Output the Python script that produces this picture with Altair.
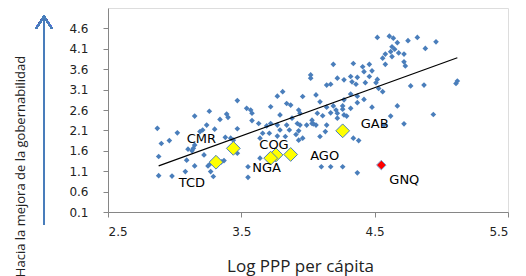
import altair as alt
import pandas as pd

# ---- data ----
pts_x = [2.87, 2.90, 2.96, 3.02, 2.88, 2.88, 2.98, 3.08, 3.09, 3.10, 3.13, 3.15, 3.15, 3.15,
         3.47, 3.26, 3.39, 3.34, 3.24, 3.21, 3.47, 3.38, 3.14, 3.22, 3.37, 3.35, 3.27, 3.29,
         3.44, 3.42, 3.25, 3.47, 3.55, 3.40, 3.30, 3.19, 3.27,
         3.64, 3.71, 3.72, 3.83, 3.84, 3.92, 3.94, 3.96, 4.03, 4.06, 4.14, 4.10, 4.17, 4.26,
         4.34, 4.38, 4.37, 4.72, 4.02, 4.02, 4.14, 3.81, 3.77, 3.72, 3.84, 3.87, 3.96, 4.06,
         3.54, 3.57, 3.58, 3.93, 3.94, 4.07, 3.79, 3.88, 3.58, 3.63, 4.03, 4.04, 3.99, 3.77,
         3.69, 3.79, 3.93, 3.86, 3.66, 3.77, 3.91, 4.09, 4.13, 3.93, 3.55, 3.64, 4.09,
         4.52, 4.61, 4.64, 4.67, 4.75, 4.82, 4.63, 4.65, 4.62, 4.58, 4.68, 4.63, 4.72, 4.56,
         4.72, 4.73, 4.58, 4.19, 4.34, 4.41, 4.46, 4.42, 4.48, 4.32, 4.37, 4.46, 4.33, 4.27,
         4.22, 4.43, 4.36, 4.52, 4.51, 4.17, 4.53, 4.56, 4.77, 4.32, 4.37, 4.42, 4.27, 4.48,
         4.67, 4.14, 4.19, 4.21, 4.26, 4.26, 4.11, 4.22, 4.27, 4.57, 4.96, 4.88, 4.87, 5.11,
         5.12, 4.94, 4.62, 4.22, 4.17, 4.29, 4.37, 4.32]
pts_y = [2.15, 1.78, 1.85, 2.04, 1.46, 0.99, 0.98, 1.09, 1.37, 1.64, 1.60, 1.74, 2.45, 1.23,
         2.83, 2.57, 2.50, 2.37, 2.23, 2.11, 2.14, 1.93, 1.66, 1.50, 1.36, 1.33, 1.09, 0.97,
         1.86, 1.91, 1.23, 1.54, 0.95, 2.42, 2.13, 2.07, 1.29,
         1.91, 2.03, 2.27, 1.95, 2.23, 2.27, 2.23, 1.91, 2.27, 2.23, 2.23, 1.21, 1.21, 1.21,
         1.91, 1.85, 1.06, 2.26, 3.46, 3.38, 3.21, 3.05, 2.94, 2.68, 2.76, 2.72, 2.93, 2.97,
         2.64, 2.60, 2.52, 2.60, 2.52, 2.52, 2.48, 2.40, 2.34, 2.27, 2.35, 2.26, 2.23, 2.23,
         2.21, 2.11, 2.09, 2.11, 2.03, 1.96, 2.00, 1.95, 2.07, 1.86, 1.21, 1.42, 2.80,
         4.38, 4.41, 4.36, 4.25, 4.30, 4.38, 4.15, 4.09, 4.03, 3.97, 4.00, 3.91, 3.97, 3.87,
         3.78, 3.68, 3.72, 3.72, 3.74, 3.66, 3.72, 3.54, 3.56, 3.42, 3.40, 3.42, 3.29, 3.34,
         3.38, 3.27, 3.23, 3.35, 3.27, 3.23, 3.13, 3.05, 3.19, 2.99, 2.94, 2.86, 2.85, 2.67,
         2.70, 2.67, 2.70, 2.60, 2.70, 2.62, 2.46, 2.40, 2.48, 2.23, 4.27, 4.11, 3.21, 3.25,
         3.31, 2.49, 2.45, 2.52, 2.53, 2.45, 2.78, 2.64]

hl_codes = ["CMR", "TCD", "COG", "NGA", "AGO", "GAB"]
hl_x = [3.44, 3.31, 3.76, 3.72, 3.87, 4.26]
hl_y = [1.66, 1.32, 1.50, 1.42, 1.51, 2.09]

gnq_code = ["GNQ"]
gnq_x = [4.55]
gnq_y = [1.25]

trend_x = [2.88, 5.12]
trend_y = [1.23, 3.88]

x_ticks = [2.5, 3.5, 4.5, 5.5]
y_ticks = [0.1, 0.6, 1.1, 1.6, 2.1, 2.6, 3.1, 3.6, 4.1, 4.6]

# ---- style ----
BLUE = "#4a7ebb"
label_offsets = {"CMR": (-32, -9), "TCD": (-24, 21), "COG": (-2, -10), "NGA": (-4, 10),
                 "AGO": (34, 2), "GAB": (32, -7), "GNQ": (23, 15)}

pts = pd.DataFrame({"x": pts_x, "y": pts_y})
hl = pd.DataFrame({"code": hl_codes, "x": hl_x, "y": hl_y})
gnq = pd.DataFrame({"code": gnq_code, "x": gnq_x, "y": gnq_y})
trend = pd.DataFrame({"x": trend_x, "y": trend_y})

xs = alt.Scale(domain=[2.5, 5.5], nice=False, zero=False)
ys = alt.Scale(domain=[0.1, 5.1], nice=False, zero=False)

x_axis = alt.Axis(values=x_ticks, format=".1f", title="Log PPP per cápita", grid=False,
                  domainColor="#868686", tickColor="#868686", tickSize=5,
                  labelPadding=9, labelFont="DejaVu Sans", labelFontSize=12,
                  labelOverlap=False,
                  labelColor="#222222", titleFont="Open Sans", titleFontSize=17,
                  titleFontWeight="normal", titleColor="#222222",
                  titleX=192, titleY=54, titleBaseline="middle", titleAlign="center")
y_axis = alt.Axis(values=y_ticks, format=".1f", title="Hacia la mejora de la gobernabilidad",
                  grid=False, domainColor="#868686", tickColor="#868686", tickSize=5,
                  labelPadding=15, labelFont="DejaVu Sans", labelFontSize=12,
                  labelOverlap=False,
                  labelColor="#222222", titleFont="Open Sans", titleFontSize=13,
                  titleFontWeight="normal", titleColor="#222222", titleAngle=270,
                  titleX=-88, titleY=158, titleBaseline="middle", titleAlign="center")

X = lambda: alt.X("x:Q", scale=xs, axis=x_axis)
Y = lambda: alt.Y("y:Q", scale=ys, axis=y_axis)

base_pts = alt.Chart(pts).mark_point(shape="diamond", filled=True, color=BLUE, size=32,
                                     opacity=1).encode(x=X(), y=Y())

line = alt.Chart(trend).mark_line(color="black", strokeWidth=1.2).encode(x=X(), y=Y())

hl_pts = alt.Chart(hl).mark_point(shape="diamond", filled=True, fill="#ffff00",
                                  stroke=BLUE, strokeWidth=1, size=190, opacity=1).encode(
    x=X(), y=Y())

gnq_pt = alt.Chart(gnq).mark_point(shape="diamond", filled=True, fill="#ff0000",
                                   stroke="#7aa0d0", strokeWidth=1, size=90, opacity=1).encode(
    x=X(), y=Y())

labels = []
all_lab = pd.concat([hl, gnq], ignore_index=True)
for code, (dx, dy) in label_offsets.items():
    labels.append(
        alt.Chart(all_lab).transform_filter(alt.datum.code == code).mark_text(
            font="DejaVu Sans", fontSize=13, color="black", dx=dx, dy=dy,
            align="center", baseline="middle").encode(x=X(), y=Y(), text="code:N")
    )

arrow_line = alt.Chart(pts).mark_rule(color=BLUE, strokeWidth=1.5).encode(
    x=alt.value(-64), y=alt.value(9), y2=alt.value(217))
arrow_head = alt.Chart(pts).mark_point(
    shape="M-1.33,1L0,-1L1.33,1", filled=False, stroke=BLUE, strokeWidth=1.5, size=144,
    opacity=1).encode(x=alt.value(-64), y=alt.value(14.7))

chart = alt.layer(base_pts, line, hl_pts, gnq_pt, *labels, arrow_line, arrow_head).properties(
    width=400, height=204,
    autosize=alt.AutoSizeParams(type="none"),
    padding={"left": 100, "top": 0, "right": 10, "bottom": 64},
).configure_view(stroke=None).configure_axis(labelOverlap=False).configure(background="white")

chart.save("out.html", embed_options={"renderer": "svg", "actions": False})
